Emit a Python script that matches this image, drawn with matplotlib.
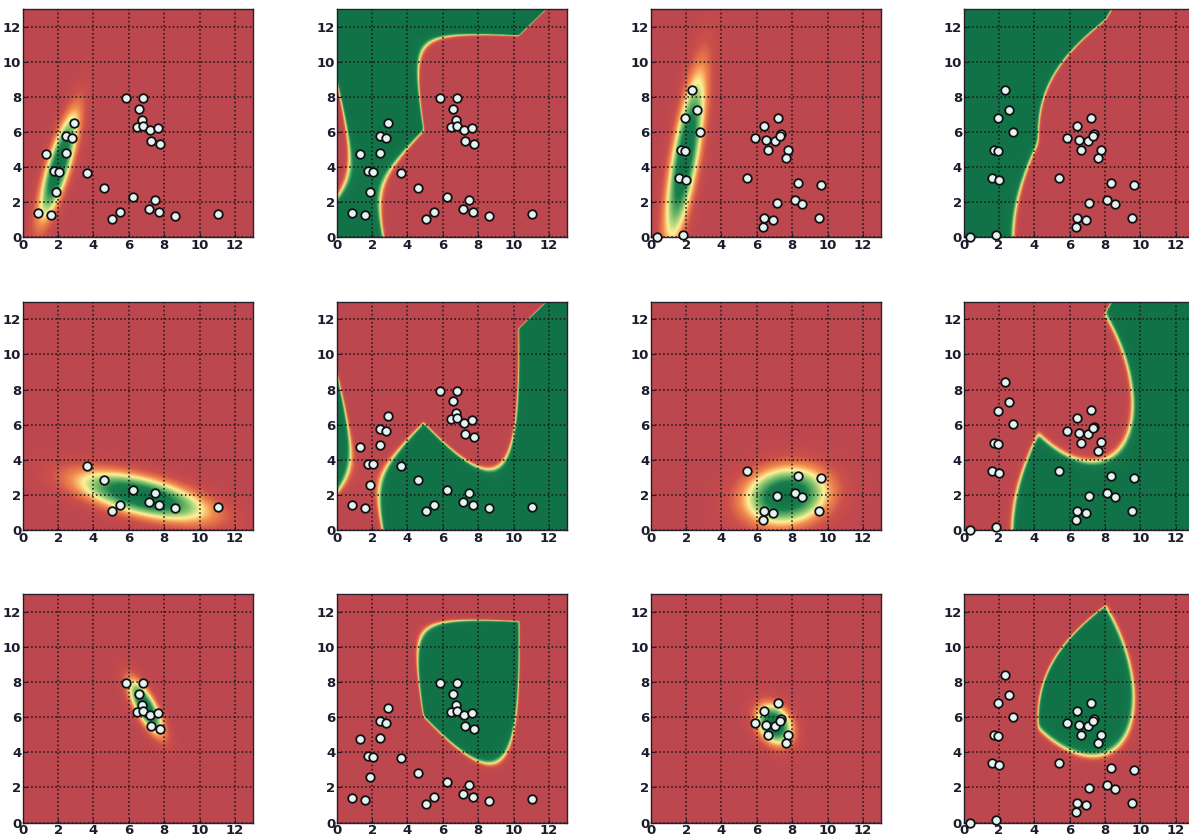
import numpy as np
import matplotlib
matplotlib.use("Agg")
import matplotlib.pyplot as plt
from matplotlib.colors import LinearSegmentedColormap

# ---------------- data ----------------
# Dataset A (columns 1-2)
a1_x = [0.85, 1.58, 1.30, 1.77, 2.03, 1.90, 2.42, 2.42, 2.80, 2.91]
a1_y = [1.41, 1.28, 4.76, 3.79, 3.75, 2.59, 4.82, 5.77, 5.64, 6.50]
a2_x = [3.65, 4.59, 5.02, 5.51, 6.26, 7.16, 7.48, 7.71, 8.63, 11.02]
a2_y = [3.66, 2.84, 1.07, 1.45, 2.30, 1.60, 2.13, 1.45, 1.24, 1.33]
a3_x = [5.85, 6.82, 6.58, 6.73, 6.48, 6.82, 7.22, 7.65, 7.26, 7.74]
a3_y = [7.92, 7.92, 7.33, 6.67, 6.30, 6.36, 6.10, 6.25, 5.47, 5.30]

# Dataset B (columns 3-4)
b1_x = [0.36, 1.85, 1.61, 2.02, 1.74, 1.95, 1.93, 2.59, 2.34, 2.80]
b1_y = [0.00, 0.17, 3.37, 3.28, 4.97, 4.91, 6.78, 7.28, 8.42, 6.02]
b2_x = [5.42, 8.31, 9.65, 7.12, 8.13, 8.54, 6.40, 6.93, 6.37, 9.51]
b2_y = [3.38, 3.10, 2.98, 1.97, 2.11, 1.91, 1.12, 0.99, 0.60, 1.12]
b3_x = [5.87, 6.42, 6.53, 6.62, 7.04, 7.21, 7.37, 7.30, 7.75, 7.63]
b3_y = [5.67, 6.36, 5.52, 4.97, 5.50, 6.82, 5.88, 5.80, 4.99, 4.50]

ticks = [0, 2, 4, 6, 8, 10, 12]
lim = (0, 13)

datasets = {
    "A": [(a1_x, a1_y), (a2_x, a2_y), (a3_x, a3_y)],
    "B": [(b1_x, b1_y), (b2_x, b2_y), (b3_x, b3_y)],
}

# ---------------- helpers ----------------
cmap = LinearSegmentedColormap.from_list(
    "ryg",
    [(0.00, (0.74, 0.28, 0.31)),
     (0.12, (0.80, 0.31, 0.29)),
     (0.28, (0.95, 0.55, 0.30)),
     (0.42, (1.00, 0.95, 0.60)),
     (0.58, (0.50, 0.76, 0.42)),
     (0.78, (0.10, 0.50, 0.31)),
     (1.00, (0.07, 0.45, 0.28))])

n = 400
gx = np.linspace(lim[0], lim[1], n)
GX, GY = np.meshgrid(gx, gx)
P = np.stack([GX.ravel(), GY.ravel()], axis=1)


def logpdf(pts, xs, ys):
    X = np.column_stack([xs, ys])
    mu = X.mean(axis=0)
    cov = np.cov(X.T)
    inv = np.linalg.inv(cov)
    d = pts - mu
    m = np.einsum("ij,jk,ik->i", d, inv, d)
    return -0.5 * m - 0.5 * np.log(np.linalg.det(cov)) - np.log(2 * np.pi)


fig = plt.figure(figsize=(11.89, 8.38), dpi=100)
W, H = 1189.0, 838.0
col_left = [22.7, 336.7, 650.7, 963.5]
row_top = [9.0, 301.7, 594.0]
aw, ah = 230.0, 228.5

for r in range(3):
    for c in range(4):
        key = "A" if c < 2 else "B"
        classes = datasets[key]
        ax = fig.add_axes([col_left[c] / W, 1 - (row_top[r] + ah) / H, aw / W, ah / H])
        logs = [logpdf(P, xs, ys) for xs, ys in classes]
        if c % 2 == 0:
            # class-conditional density (normalised to its peak)
            z = np.exp(0.75 * (logs[r] - logs[r].max()))
        else:
            # posterior probability of the class
            L = np.stack(logs, axis=0)
            L = L - L.max(axis=0)
            E = np.exp(L)
            z = E[r] / E.sum(axis=0)
        ax.imshow(z.reshape(n, n), origin="lower", extent=(0, 13, 0, 13),
                  cmap=cmap, vmin=0, vmax=1, interpolation="bilinear", aspect="auto", zorder=0)
        # points
        if c % 2 == 0 and r > 0:
            shown = [classes[r]]
        else:
            shown = classes
        for xs, ys in shown:
            ax.scatter(xs, ys, s=38, facecolor="#e6f3f3", edgecolor="#111111",
                       linewidth=1.3, zorder=3, clip_on=False)
        ax.set_xlim(*lim)
        ax.set_ylim(*lim)
        ax.set_xticks(ticks)
        ax.set_yticks(ticks)
        ax.grid(True, color="#151515", linestyle=":", linewidth=1.1, zorder=1)
        ax.set_axisbelow(False)
        ax.tick_params(direction="in", length=3, pad=1, labelsize=9.5,
                       labelcolor="#1c1c2c", color="#1c1c2c")
        for lab in ax.get_xticklabels() + ax.get_yticklabels():
            lab.set_fontweight("bold")
        for sp in ax.spines.values():
            sp.set_color("#2a2030")
            sp.set_linewidth(1.0)

fig.savefig("out.png", dpi=100)
